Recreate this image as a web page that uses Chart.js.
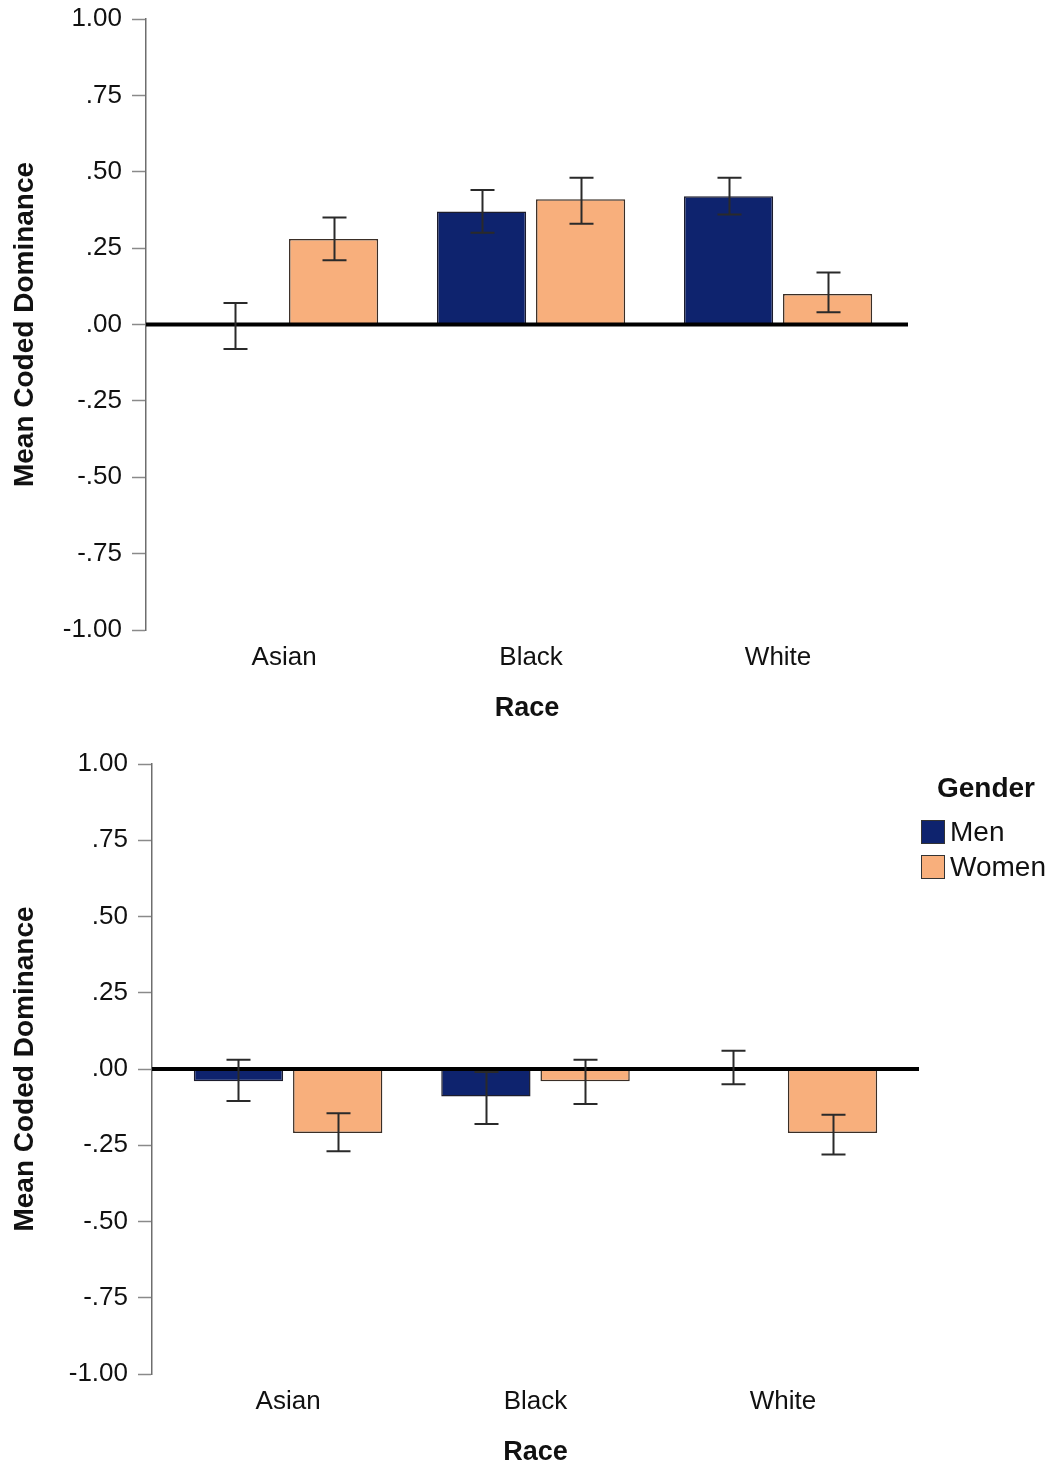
<!DOCTYPE html>
<html>
<head>
<meta charset="utf-8">
<script src="https://cdn.jsdelivr.net/npm/chart.js@4.4.1/dist/chart.umd.min.js"></script>
<style>
  html, body { margin: 0; padding: 0; background: #fff; overflow: hidden; }
  #wrap { width: 1053px; height: 1467px; position: relative; overflow: hidden; }
  canvas { display: block; }
</style>
</head>
<body>
<div id="wrap">
  <canvas id="topChart" width="1053" height="729"></canvas>
  <canvas id="bottomChart" width="1053" height="744"></canvas>
</div>
<script>
// Categories on the x axis
const races = ["Asian", "Black", "White"];
const genders = ["Men", "Women"];

// Upper panel: means and error bar ends
const topMenMean = [0.00, 0.37, 0.42];
const topMenLow = [-0.08, 0.30, 0.36];
const topMenHigh = [0.07, 0.44, 0.48];
const topWomenMean = [0.28, 0.41, 0.10];
const topWomenLow = [0.21, 0.33, 0.04];
const topWomenHigh = [0.35, 0.48, 0.17];

// Lower panel: means and error bar ends
const botMenMean = [-0.04, -0.09, 0.00];
const botMenLow = [-0.105, -0.18, -0.05];
const botMenHigh = [0.03, -0.01, 0.06];
const botWomenMean = [-0.21, -0.04, -0.21];
const botWomenLow = [-0.27, -0.115, -0.28];
const botWomenHigh = [-0.145, 0.03, -0.15];

// y ticks
const yTicks = [-1, -0.75, -0.5, -0.25, 0, 0.25, 0.5, 0.75, 1];

const MEN_COLOR = "#0e236e";
const WOMEN_COLOR = "#f8af7c";
const FONT = "'Liberation Sans', Arial, sans-serif";

function formatTick(v) {
  // SPSS style: 1.00, .75, -.25
  return v.toFixed(2).replace("0.", ".");
}

function points(values) {
  return values.map((v, i) => ({ x: i, y: v }));
}

// zero reference line + error bars, drawn over the bars
const errorBarPlugin = {
  id: "errorBars",
  afterDatasetsDraw(chart, args, opts) {
    const ctx = chart.ctx;
    const y = chart.scales.y;
    const area = chart.chartArea;
    const y0 = y.getPixelForValue(0);

    ctx.save();
    ctx.strokeStyle = "#000";
    ctx.lineWidth = 4;
    ctx.beginPath();
    ctx.moveTo(area.left, y0);
    ctx.lineTo(area.right, y0);
    ctx.stroke();

    ctx.strokeStyle = "#2a2a2a";
    ctx.lineWidth = 2;
    chart.data.datasets.forEach((ds, di) => {
      const meta = chart.getDatasetMeta(di);
      meta.data.forEach((bar, i) => {
        const lo = y.getPixelForValue(ds.low[i]);
        const hi = y.getPixelForValue(ds.high[i]);
        const cx = Math.round(bar.x) + 0.5;
        ctx.beginPath();
        ctx.moveTo(cx, lo);
        ctx.lineTo(cx, hi);
        ctx.moveTo(cx - 12, lo);
        ctx.lineTo(cx + 12, lo);
        ctx.moveTo(cx - 12, hi);
        ctx.lineTo(cx + 12, hi);
        ctx.stroke();
      });
    });
    ctx.restore();
  }
};

// Gender legend to the right of the plot
const genderLegend = {
  id: "genderLegend",
  afterDraw(chart, args, opts) {
    if (!opts.show) return;
    const ctx = chart.ctx;
    const area = chart.chartArea;
    ctx.save();
    ctx.fillStyle = "#111";
    ctx.textBaseline = "middle";
    ctx.textAlign = "center";
    ctx.font = "bold 28px " + FONT;
    ctx.fillText("Gender", area.right + 67, area.top + 25);
    ctx.textAlign = "left";
    ctx.font = "28px " + FONT;
    chart.data.datasets.forEach((ds, i) => {
      const top = area.top + 56 + i * 35;
      ctx.fillStyle = ds.backgroundColor;
      ctx.fillRect(area.right + 2, top, 24, 24);
      ctx.strokeStyle = "#333";
      ctx.lineWidth = 1;
      ctx.strokeRect(area.right + 2.5, top + 0.5, 23, 23);
      ctx.fillStyle = "#111";
      ctx.fillText(ds.label, area.right + 31, top + 13);
    });
    ctx.restore();
  }
};

function makeChart(id, men, women, opt) {
  const datasets = [
    {
      label: genders[0],
      data: points(men.mean),
      low: men.low,
      high: men.high,
      backgroundColor: MEN_COLOR,
      borderColor: "#1c1c2c",
      borderWidth: 1.5
    },
    {
      label: genders[1],
      data: points(women.mean),
      low: women.low,
      high: women.high,
      backgroundColor: WOMEN_COLOR,
      borderColor: "#3a2e26",
      borderWidth: 1.5
    }
  ];

  return new Chart(document.getElementById(id), {
    type: "bar",
    data: { datasets: datasets },
    plugins: [errorBarPlugin, genderLegend],
    options: {
      responsive: false,
      animation: false,
      categoryPercentage: 0.802,
      barPercentage: 0.9,
      layout: { padding: { top: opt.top, right: opt.right, left: 0, bottom: 0 } },
      plugins: {
        legend: { display: false },
        tooltip: { enabled: false },
        genderLegend: { show: opt.legend }
      },
      scales: {
        x: {
          type: "linear",
          min: opt.xMin,
          max: opt.xMax,
          offset: false,
          grid: { display: false },
          border: { display: false },
          ticks: {
            stepSize: 1,
            includeBounds: false,
            autoSkip: false,
            maxRotation: 0,
            padding: 4,
            color: "#111",
            font: { family: FONT, size: 26 },
            callback: (v) => races[v] ?? ""
          },
          title: {
            display: true,
            text: "Race",
            color: "#111",
            font: { family: FONT, size: 27, weight: "bold" },
            padding: { top: 0, bottom: 4 }
          },
          afterFit: (scale) => { scale.height = 99; }
        },
        y: {
          min: -1,
          max: 1,
          afterBuildTicks: (scale) => { scale.ticks = yTicks.map((v) => ({ value: v })); },
          grid: {
            drawOnChartArea: false,
            tickLength: 14,
            tickColor: "#8a8a8a",
            tickWidth: 1.5
          },
          border: { display: true, color: "#6e6e6e", width: 1.5 },
          ticks: {
            padding: 10,
            color: "#111",
            font: { family: FONT, size: 26 },
            callback: (v) => formatTick(v)
          },
          title: {
            display: true,
            text: "Mean Coded Dominance",
            color: "#111",
            font: { family: FONT, size: 28, weight: "bold" },
            padding: { top: 8, bottom: 0 }
          },
          afterFit: (scale) => {
            scale.width = opt.axisX;
            // let layout padding alone decide the plot top
            scale.paddingTop = 0;
            scale.paddingBottom = 0;
          }
        }
      }
    }
  });
}

makeChart(
  "topChart",
  { mean: topMenMean, low: topMenLow, high: topMenHigh },
  { mean: topWomenMean, low: topWomenLow, high: topWomenHigh },
  { top: 19, right: 145, axisX: 146, xMin: -0.559, xMax: 2.526, legend: false }
);

makeChart(
  "bottomChart",
  { mean: botMenMean, low: botMenLow, high: botMenHigh },
  { mean: botWomenMean, low: botWomenLow, high: botWomenHigh },
  { top: 35, right: 134, axisX: 152, xMin: -0.55, xMax: 2.55, legend: true }
);
</script>
</body>
</html>
